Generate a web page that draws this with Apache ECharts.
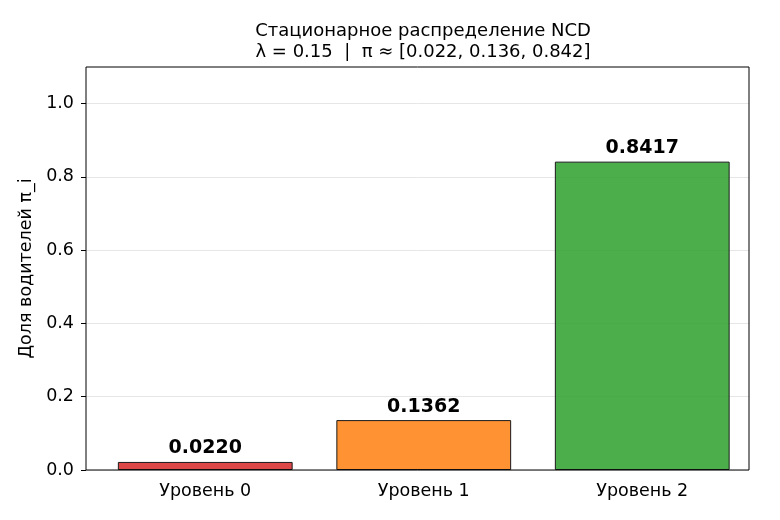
<!DOCTYPE html>
<html>
<head>
<meta charset="utf-8">
<script src="https://cdn.jsdelivr.net/npm/echarts@6/dist/echarts.min.js"></script>
<style>
  html, body { margin: 0; padding: 0; background: #fff; }
  #chart { width: 780px; height: 520px; }
</style>
</head>
<body>
<div id="chart"></div>
<script>
var levels = ['Уровень 0', 'Уровень 1', 'Уровень 2'];
var shares = [0.0220, 0.1362, 0.8417];
var barColors = ['rgba(214,39,40,0.85)', 'rgba(255,127,14,0.85)', 'rgba(44,160,44,0.85)'];
var yTicks = [0, 0.2, 0.4, 0.6, 0.8, 1.0];

var FONT = 'DejaVu Sans';
var myChart = echarts.init(document.getElementById('chart'));

// frame of the axes (matplotlib style box)
var PL = 86, PR = 749, PT = 67, PB = 470;

var option = {
    animation: false,
    textStyle: { fontFamily: FONT },
    title: {
        text: 'Стационарное распределение NCD\nλ = 0.15  |  π ≈ [0.022, 0.136, 0.842]',
        left: 418,
        top: 16,
        textAlign: 'center',
        textStyle: { fontFamily: FONT, fontSize: 18, fontWeight: 'normal', color: '#000', lineHeight: 21 }
    },
    grid: [
        // grid 0: y axis + horizontal grid lines over the whole frame
        { left: PL, right: 780 - PR, top: PT, bottom: 520 - PB },
        // grid 1: bars (matplotlib x-limits are a bit asymmetric)
        { left: 96, right: 28.5, top: PT, bottom: 520 - PB }
    ],
    xAxis: [
        { type: 'value', gridIndex: 0, show: false, min: 0, max: 1 },
        {
            type: 'category',
            gridIndex: 1,
            data: levels,
            axisLine: { show: false },
            axisTick: { alignWithLabel: true, length: 5, lineStyle: { color: '#000' } },
            axisLabel: { color: '#000', fontSize: 17.5, margin: 12 }
        }
    ],
    yAxis: [
        {
            type: 'value',
            gridIndex: 0,
            min: 0,
            max: 1.1,
            interval: 0.2,
            name: 'Доля водителей π_i',
            nameLocation: 'middle',
            nameGap: 50,
            nameTextStyle: { color: '#000', fontSize: 17.5 },
            axisLine: { show: false },
            axisTick: { show: true, length: 5, customValues: yTicks, lineStyle: { color: '#000' } },
            axisLabel: {
                color: '#000', fontSize: 17.5, margin: 12,
                customValues: yTicks,
                formatter: function (v) { return v.toFixed(1); }
            },
            splitLine: { show: true, lineStyle: { color: '#e6e6e6', width: 1 } }
        },
        {
            type: 'value',
            gridIndex: 1,
            min: 0,
            max: 1.1,
            show: false,
            splitLine: { show: false }
        }
    ],
    series: [
        {
            type: 'bar',
            xAxisIndex: 1,
            yAxisIndex: 1,
            barWidth: '80%',
            data: shares.map(function (v, i) {
                return { value: v, itemStyle: { color: barColors[i] } };
            }),
            itemStyle: { borderColor: '#1a1a1a', borderWidth: 1 },
            label: {
                show: true,
                position: 'top',
                distance: 4,
                color: '#000',
                fontSize: 19,
                fontWeight: 'bold',
                formatter: function (p) { return p.value.toFixed(4); }
            }
        }
    ],
    graphic: [
        {
            type: 'rect',
            shape: { x: PL, y: PT, width: PR - PL, height: PB - PT },
            style: { fill: 'none', stroke: '#000', lineWidth: 1 },
            silent: true,
            z: 10
        }
    ]
};

myChart.setOption(option);
</script>
</body>
</html>
